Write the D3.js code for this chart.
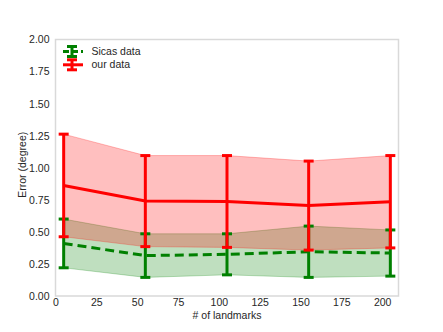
<!DOCTYPE html>
<html><head><meta charset="utf-8">
<script src="https://cdn.jsdelivr.net/npm/d3@7"></script>
<style>body{margin:0;background:#fff}svg{display:block;font-family:"Liberation Sans",Arial,sans-serif}</style>
</head><body><svg id="c" width="443" height="332"></svg>
<script>
const xs = [5, 55, 105, 155, 205];
const sicasMean = [0.41, 0.315, 0.325, 0.345, 0.335];
const sicasErr  = [0.19, 0.17, 0.16, 0.20, 0.18];
const ourMean   = [0.862, 0.74, 0.737, 0.705, 0.735];
const ourErr    = [0.40, 0.355, 0.358, 0.347, 0.36];
const xTicks = [0, 25, 50, 75, 100, 125, 150, 175, 200];
const yTicks = [0, 0.25, 0.5, 0.75, 1.0, 1.25, 1.5, 1.75, 2.0];

const svg = d3.select("#c");
const L = 55.5, R = 398.5, T = 39.5, B = 296;
const x = d3.scaleLinear().domain([0, 210]).range([L, R]);
const y = d3.scaleLinear().domain([0, 2]).range([B, T]);

const series = [
  {name:"Sicas data", mean:sicasMean, err:sicasErr, color:"#008000", dash:"9,5"},
  {name:"our data", mean:ourMean, err:ourErr, color:"#ff0000", dash:null}
];

// fills
series.forEach(s => {
  const d = xs.map((v,i)=>({x:v, lo:s.mean[i]-s.err[i], hi:s.mean[i]+s.err[i]}));
  svg.append("path").datum(d)
    .attr("d", d3.area().x(p=>x(p.x)).y0(p=>y(p.lo)).y1(p=>y(p.hi)))
    .attr("fill", s.color).attr("fill-opacity", 0.25)
    .attr("stroke", s.color).attr("stroke-opacity", 0.25).attr("stroke-width", 1);
});

// error bars + lines
series.forEach(s => {
  const d = xs.map((v,i)=>({x:v, m:s.mean[i], e:s.err[i]}));
  svg.append("path").datum(d)
    .attr("d", d3.line().x(p=>x(p.x)).y(p=>y(p.m)))
    .attr("fill","none").attr("stroke", s.color).attr("stroke-width", 3)
    .attr("stroke-dasharray", s.dash);
  const g = svg.append("g").attr("stroke", s.color).attr("stroke-width", 3);
  d.forEach(p => {
    g.append("line").attr("x1",x(p.x)).attr("x2",x(p.x)).attr("y1",y(p.m-p.e)).attr("y2",y(p.m+p.e));
    [p.m-p.e, p.m+p.e].forEach(v => g.append("line")
      .attr("x1",x(p.x)-5).attr("x2",x(p.x)+5).attr("y1",y(v)).attr("y2",y(v)));
  });
});

// spines
svg.append("rect").attr("x",L).attr("y",T).attr("width",R-L).attr("height",B-T)
  .attr("fill","none").attr("stroke","#d9d9d9").attr("stroke-width",1.5);

// axes
const xa = svg.append("g").attr("transform",`translate(0,${B})`)
  .call(d3.axisBottom(x).tickValues(xTicks).tickSize(0).tickPadding(3).tickFormat(d3.format("d")));
const ya = svg.append("g").attr("transform",`translate(${L},0)`)
  .call(d3.axisLeft(y).tickValues(yTicks).tickSize(0).tickPadding(6).tickFormat(d3.format(".2f")));
[xa, ya].forEach(a => {
  a.select(".domain").remove();
  a.selectAll("text").attr("font-size", 10.5).attr("fill","#262626")
   .attr("font-family",'"Liberation Sans",Arial,sans-serif');
});

svg.append("text").attr("x", (L+R)/2).attr("y", 319).attr("text-anchor","middle")
  .attr("font-size",10.5).attr("fill","#262626").text("# of landmarks");
svg.append("text").attr("transform",`translate(26,${(T+B)/2 - 3}) rotate(-90)`)
  .attr("text-anchor","middle").attr("font-size",10.5).attr("fill","#262626").text("Error (degree)");

// legend
const leg = svg.append("g");
series.forEach((s,i) => {
  const cy = 51.5 + i*13.3, cx = 72;
  const g = leg.append("g").attr("stroke", s.color).attr("stroke-width", 3);
  g.append("line").attr("x1",63).attr("x2",83).attr("y1",cy).attr("y2",cy).attr("stroke-dasharray", s.dash ? "6,3" : null);
  g.append("line").attr("x1",cx).attr("x2",cx).attr("y1",cy-5).attr("y2",cy+5);
  g.append("line").attr("x1",cx-5).attr("x2",cx+5).attr("y1",cy-5).attr("y2",cy-5);
  g.append("line").attr("x1",cx-5).attr("x2",cx+5).attr("y1",cy+5).attr("y2",cy+5);
  leg.append("text").attr("x",91.5).attr("y",cy+3.5).attr("font-size",10.5).attr("fill","#262626").text(s.name);
});
</script></body></html>
